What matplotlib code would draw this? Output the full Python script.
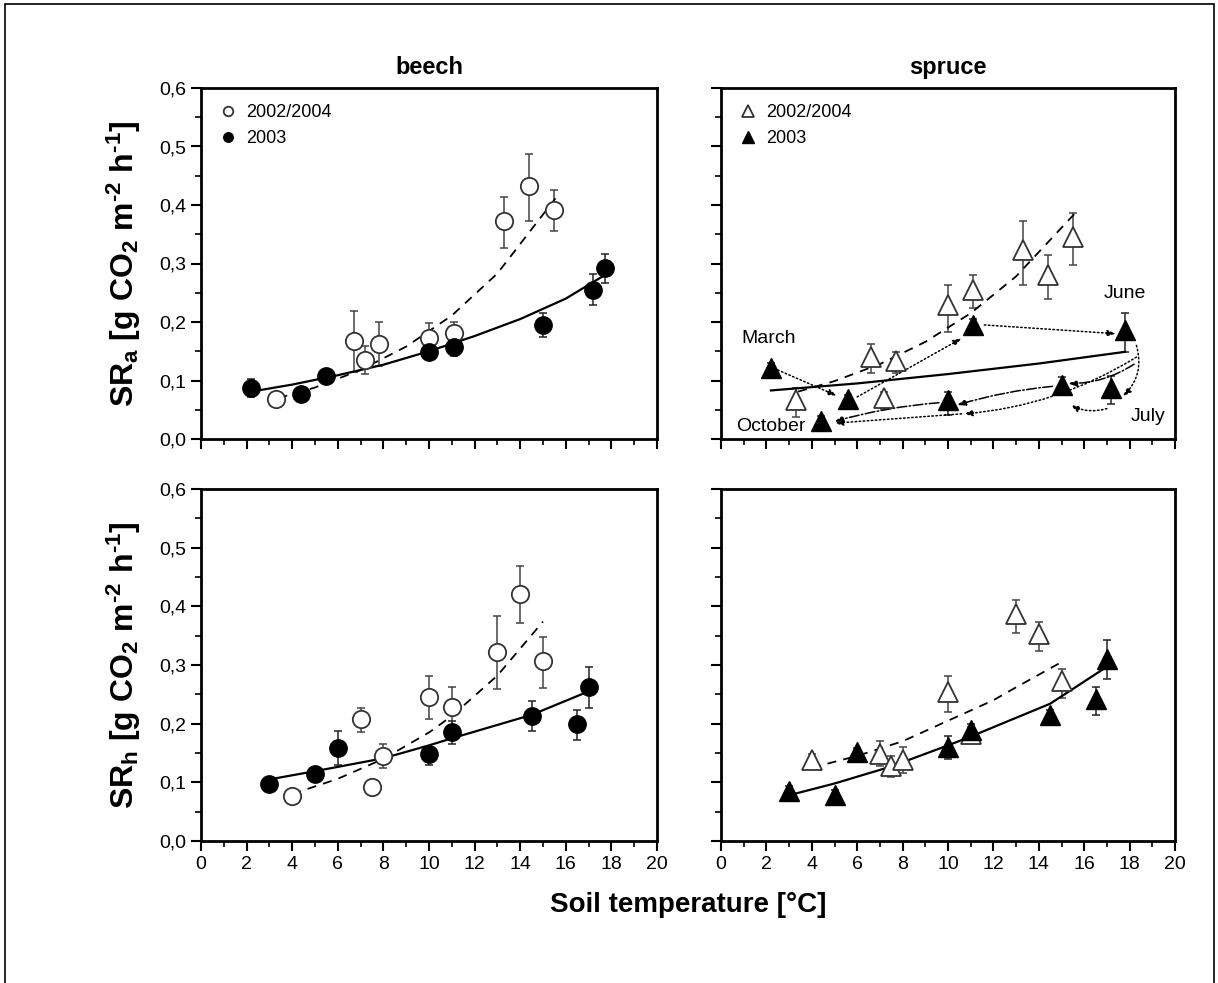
import matplotlib
matplotlib.use("Agg")
import matplotlib.pyplot as plt
from matplotlib.patches import Rectangle
from matplotlib.ticker import MultipleLocator, FuncFormatter

plt.rcParams['font.family'] = ['Liberation Sans', 'DejaVu Sans']
plt.rcParams['mathtext.fontset'] = 'custom'
plt.rcParams['mathtext.rm'] = 'Liberation Sans:bold'
plt.rcParams['mathtext.it'] = 'Liberation Sans:bold'
plt.rcParams['mathtext.bf'] = 'Liberation Sans:bold'
plt.rcParams['mathtext.default'] = 'rm'

# ---- beech, SRa ----
ba_open_x = [3.3, 6.7, 7.2, 7.8, 10.0, 11.1, 13.3, 14.4, 15.5]
ba_open_y = [0.068, 0.168, 0.135, 0.162, 0.173, 0.181, 0.372, 0.432, 0.391]
ba_open_lo = [0.014, 0.053, 0.024, 0.038, 0.022, 0.020, 0.046, 0.060, 0.035]
ba_open_hi = [0.013, 0.050, 0.024, 0.038, 0.026, 0.019, 0.042, 0.056, 0.035]
ba_fill_x = [2.2, 4.4, 5.5, 10.0, 11.1, 15.0, 17.2, 17.7]
ba_fill_y = [0.088, 0.077, 0.107, 0.149, 0.157, 0.195, 0.255, 0.292]
ba_fill_lo = [0.017, 0.008, 0.013, 0.010, 0.015, 0.021, 0.026, 0.026]
ba_fill_hi = [0.015, 0.008, 0.012, 0.012, 0.013, 0.020, 0.027, 0.024]
ba_fit_open_x = [3.4, 5, 7, 9, 11, 13, 15.6]
ba_fit_open_y = [0.070, 0.088, 0.118, 0.158, 0.211, 0.283, 0.414]
ba_fit_fill_x = [2.2, 4, 6, 8, 10, 12, 14, 16, 17.7]
ba_fit_fill_y = [0.081, 0.093, 0.109, 0.127, 0.150, 0.176, 0.205, 0.240, 0.280]

# ---- spruce, SRa ----
sa_open_x = [3.3, 6.6, 7.2, 7.7, 10.0, 11.1, 13.3, 14.4, 15.5]
sa_open_y = [0.067, 0.140, 0.070, 0.134, 0.229, 0.255, 0.323, 0.280, 0.345]
sa_open_lo = [0.029, 0.028, 0.018, 0.021, 0.046, 0.031, 0.059, 0.041, 0.048]
sa_open_hi = [0.021, 0.022, 0.010, 0.015, 0.035, 0.025, 0.050, 0.034, 0.041]
sa_fill_x = [2.2, 4.4, 5.6, 10.0, 11.1, 15.0, 17.2, 17.8]
sa_fill_y = [0.122, 0.030, 0.068, 0.066, 0.195, 0.092, 0.087, 0.186]
sa_fill_lo = [0.017, 0.014, 0.016, 0.025, 0.017, 0.014, 0.027, 0.037]
sa_fill_hi = [0.008, 0.010, 0.008, 0.014, 0.010, 0.014, 0.021, 0.030]
sa_fit_open_x = [3.4, 5, 7, 9, 11, 13, 15.6]
sa_fit_open_y = [0.081, 0.099, 0.128, 0.166, 0.215, 0.278, 0.386]
sa_fit_fill_x = [2.2, 6, 10, 14, 17.8]
sa_fit_fill_y = [0.083, 0.095, 0.111, 0.129, 0.149]
month_names = ["March", "June", "July", "October"]
month_x = [2.1, 17.8, 18.8, 2.2]
month_y = [0.172, 0.249, 0.038, 0.022]

# ---- beech, SRh ----
bh_open_x = [4.0, 7.0, 7.5, 8.0, 10.0, 11.0, 13.0, 14.0, 15.0]
bh_open_y = [0.076, 0.208, 0.092, 0.145, 0.246, 0.229, 0.322, 0.421, 0.306]
bh_open_lo = [0.008, 0.022, 0.008, 0.020, 0.038, 0.036, 0.063, 0.049, 0.045]
bh_open_hi = [0.008, 0.018, 0.008, 0.020, 0.035, 0.033, 0.062, 0.048, 0.042]
bh_fill_x = [3.0, 5.0, 6.0, 10.0, 11.0, 14.5, 16.5, 17.0]
bh_fill_y = [0.098, 0.114, 0.159, 0.148, 0.185, 0.213, 0.199, 0.263]
bh_fill_lo = [0.008, 0.012, 0.030, 0.018, 0.020, 0.026, 0.026, 0.037]
bh_fill_hi = [0.008, 0.012, 0.028, 0.012, 0.020, 0.026, 0.024, 0.034]
bh_fit_open_x = [4, 6, 8, 10, 11, 13, 15]
bh_fit_open_y = [0.080, 0.106, 0.140, 0.185, 0.213, 0.282, 0.374]
bh_fit_fill_x = [3, 5, 8, 10, 11, 14.5, 17]
bh_fit_fill_y = [0.105, 0.119, 0.141, 0.163, 0.175, 0.215, 0.255]

# ---- spruce, SRh ----
sh_open_x = [4.0, 7.0, 7.5, 8.0, 10.0, 11.0, 13.0, 14.0, 15.0]
sh_open_y = [0.138, 0.148, 0.127, 0.138, 0.254, 0.183, 0.387, 0.352, 0.272]
sh_open_lo = [0.010, 0.020, 0.018, 0.022, 0.034, 0.012, 0.032, 0.028, 0.029]
sh_open_hi = [0.010, 0.023, 0.018, 0.023, 0.028, 0.012, 0.023, 0.021, 0.022]
sh_fill_x = [3.0, 5.0, 6.0, 10.0, 11.0, 14.5, 16.5, 17.0]
sh_fill_y = [0.085, 0.079, 0.151, 0.161, 0.189, 0.214, 0.242, 0.311]
sh_fill_lo = [0.010, 0.008, 0.008, 0.022, 0.022, 0.016, 0.028, 0.035]
sh_fill_hi = [0.008, 0.008, 0.008, 0.018, 0.010, 0.010, 0.021, 0.032]
sh_fit_open_x = [4, 6, 8, 10, 12, 13, 15]
sh_fit_open_y = [0.125, 0.145, 0.170, 0.205, 0.240, 0.262, 0.305]
sh_fit_fill_x = [3, 5, 7.5, 10, 11, 14.5, 17]
sh_fit_fill_y = [0.078, 0.098, 0.127, 0.163, 0.178, 0.234, 0.297]

# seasonal path arrows in spruce SRa panel: (start, end, line style, curvature)
season_arrows = [
    ((2.5, 0.118), (5.1, 0.074), ':', 0.0),
    ((6.0, 0.072), (10.6, 0.172), ':', 0.0),
    ((11.6, 0.195), (17.4, 0.180), ':', 0.0),
    ((18.3, 0.160), (17.7, 0.073), ':', -0.3),
    ((17.0, 0.052), (15.4, 0.058), ':', -0.2),
    ((18.2, 0.128), (15.3, 0.095), '-.', -0.15),
    ((14.6, 0.090), (10.4, 0.058), '-.', 0.05),
    ((18.3, 0.140), (10.7, 0.043), ':', -0.12),
    ((9.6, 0.062), (5.0, 0.030), '-.', 0.05),
    ((10.6, 0.043), (5.0, 0.027), ':', 0.0),
]

W, H = 1218, 983


def box(l, r, t, b):
    return [l / W, 1 - b / H, (r - l) / W, (b - t) / H]


fig = plt.figure(figsize=(12.18, 9.83), dpi=100)
fig.patches.append(Rectangle((5 / W, -0.01), 1 - 9 / W, 1 - 4 / H + 0.01,
                             transform=fig.transFigure, fill=False,
                             edgecolor='black', linewidth=1.2))

ax_ba = fig.add_axes(box(201, 657, 88, 439))
ax_sa = fig.add_axes(box(721, 1175, 88, 439))
ax_bh = fig.add_axes(box(201, 657, 489, 841))
ax_sh = fig.add_axes(box(721, 1175, 489, 841))

comma = FuncFormatter(lambda v, p: f"{v:.1f}".replace('.', ','))

panels = [
    (ax_ba, 'o', ba_open_x, ba_open_y, ba_open_lo, ba_open_hi,
     ba_fill_x, ba_fill_y, ba_fill_lo, ba_fill_hi,
     ba_fit_open_x, ba_fit_open_y, ba_fit_fill_x, ba_fit_fill_y),
    (ax_sa, '^', sa_open_x, sa_open_y, sa_open_lo, sa_open_hi,
     sa_fill_x, sa_fill_y, sa_fill_lo, sa_fill_hi,
     sa_fit_open_x, sa_fit_open_y, sa_fit_fill_x, sa_fit_fill_y),
    (ax_bh, 'o', bh_open_x, bh_open_y, bh_open_lo, bh_open_hi,
     bh_fill_x, bh_fill_y, bh_fill_lo, bh_fill_hi,
     bh_fit_open_x, bh_fit_open_y, bh_fit_fill_x, bh_fit_fill_y),
    (ax_sh, '^', sh_open_x, sh_open_y, sh_open_lo, sh_open_hi,
     sh_fill_x, sh_fill_y, sh_fill_lo, sh_fill_hi,
     sh_fit_open_x, sh_fit_open_y, sh_fit_fill_x, sh_fit_fill_y),
]

for (ax, mk, ox, oy, olo, ohi, fx, fy, flo, fhi,
     fox, foy, ffx, ffy) in panels:
    ms = 12.5 if mk == 'o' else 15
    ax.errorbar(ox, oy, yerr=[olo, ohi], fmt='none', ecolor='#444444',
                elinewidth=1.1, capsize=2.8, capthick=1.1, zorder=2)
    ax.errorbar(fx, fy, yerr=[flo, fhi], fmt='none', ecolor='#222222',
                elinewidth=1.1, capsize=2.8, capthick=1.1, zorder=2)
    ax.plot(fox, foy, color='black', linestyle=(0, (5, 4)), linewidth=1.3, zorder=3)
    ax.plot(ffx, ffy, color='black', linestyle='-', linewidth=1.6, zorder=3)
    ax.plot(ox, oy, linestyle='none', marker=mk, markersize=ms,
            markerfacecolor='white', markeredgecolor='#333333',
            markeredgewidth=1.3, zorder=4, label='2002/2004')
    ax.plot(fx, fy, linestyle='none', marker=mk, markersize=ms,
            markerfacecolor='black', markeredgecolor='black', zorder=5, label='2003')

    ax.set_xlim(0, 20)
    ax.set_ylim(0, 0.6)
    ax.xaxis.set_major_locator(MultipleLocator(2))
    ax.xaxis.set_minor_locator(MultipleLocator(1))
    ax.yaxis.set_major_locator(MultipleLocator(0.1))
    ax.yaxis.set_minor_locator(MultipleLocator(0.05))
    ax.tick_params(which='major', direction='out', length=7, width=1.5, labelsize=14)
    ax.tick_params(which='minor', direction='out', length=4, width=1.2)
    ax.yaxis.set_major_formatter(comma)
    for s in ax.spines.values():
        s.set_linewidth(2.0)

for ax in (ax_ba, ax_sa):
    ax.tick_params(axis='x', which='both', labelbottom=False)
for ax in (ax_sa, ax_sh):
    ax.tick_params(axis='y', which='both', labelleft=False)

for ax in (ax_ba, ax_sa):
    ax.legend(loc='upper left', frameon=False, fontsize=13, markerscale=0.55,
              handletextpad=0.4, labelspacing=0.5, borderaxespad=0.5,
              handlelength=1.2)

ax_ba.set_title('beech', fontsize=17, fontweight='bold', pad=10)
ax_sa.set_title('spruce', fontsize=17, fontweight='bold', pad=10)

ax_ba.set_ylabel(r'SR$_\mathrm{a}$ [g CO$_2$ m$^{\text{-2}}$ h$^{\text{-1}}$]',
                 fontsize=23, fontweight='bold', labelpad=12)
ax_bh.set_ylabel(r'SR$_\mathrm{h}$ [g CO$_2$ m$^{\text{-2}}$ h$^{\text{-1}}$]',
                 fontsize=23, fontweight='bold', labelpad=12)

for name, mx, my in zip(month_names, month_x, month_y):
    ax_sa.text(mx, my, name, fontsize=14, ha='center', va='center', zorder=6)

for (start, end, ls, rad) in season_arrows:
    ax_sa.annotate('', xy=end, xytext=start,
                   arrowprops=dict(arrowstyle='-|>,head_length=0.5,head_width=0.18',
                                   linestyle=ls, linewidth=1.1, color='black',
                                   shrinkA=0, shrinkB=0,
                                   connectionstyle=f'arc3,rad={rad}'),
                   zorder=3)

fig.text(688 / W, 1 - 905 / H, 'Soil temperature [°C]', fontsize=20,
         fontweight='bold', ha='center', va='center')

fig.savefig('out.png', dpi=100)
